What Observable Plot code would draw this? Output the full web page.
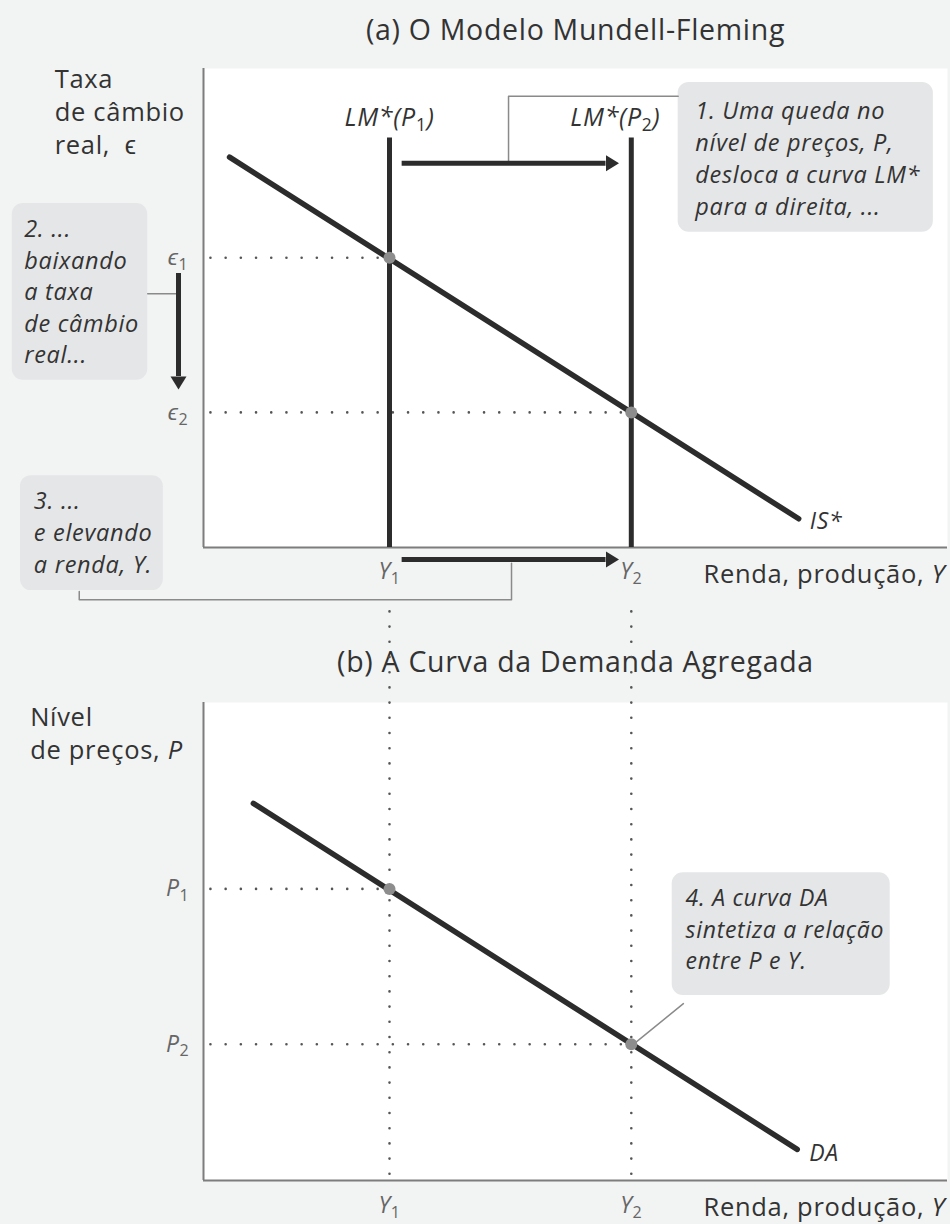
<!DOCTYPE html>
<html lang="pt">
<head>
<meta charset="utf-8">
<script src="https://cdn.jsdelivr.net/npm/d3@7"></script>
<script src="https://cdn.jsdelivr.net/npm/@observablehq/plot@0.6"></script>
<style>
  body { margin: 0; background: #f2f3f3; }
  #chart { width: 950px; }
  #chart svg { display: block; }
  #chart text { letter-spacing: 0.7px; }
</style>
</head>
<body>
<div id="chart"></div>
<script>
// ---- Data -------------------------------------------------------------
// Equilibrium income levels (shared by both panels)
const incomeLevels = [2.5, 5.75];
const incomeLabels = ["Y_1", "Y_2"];
// Real exchange rate at each equilibrium
const exchangeRates = [6.05, 2.82];
const exchangeLabels = ["ϵ_1", "ϵ_2"];
// Price level behind each LM* curve
const priceLevels = [6.1, 2.85];
const priceLabels = ["P_1", "P_2"];
const lmLabels = ["LM*(P_1)", "LM*(P_2)"];
const lmTop = 8.55;
// IS* curve (income, real exchange rate)
const isIncome = [0.35, 8.0];
const isRate = [8.15, 0.6];
// DA curve (income, price level)
const daIncome = [0.67, 7.98];
const daPrice = [7.89, 0.65];

// Annotation texts
const note1 = ["1. Uma queda no", "nível de preços, P,", "desloca a curva LM*", "para a direita, ..."];
const note2 = ["2. ...", "baixando", "a taxa", "de câmbio", "real..."];
const note3 = ["3. ...", "e elevando", "a renda, Y."];
const note4 = ["4. A curva DA", "sintetiza a relação", "entre P e Y."];
const titleA = "(a) O Modelo Mundell-Fleming";
const titleB = "(b) A Curva da Demanda Agregada";
const axisTitleA = ["Taxa", "de câmbio", "real,  ϵ"];
const axisTitleB = ["Nível", "de preços, {P}"];
const incomeAxisTitle = "Renda, produção, {Y}";

// ---- Tables built from the arrays -------------------------------------
const equilibria = incomeLevels.map((income, i) => ({
  income,
  rate: exchangeRates[i],
  price: priceLevels[i],
  incomeLabel: incomeLabels[i],
  rateLabel: exchangeLabels[i],
  priceLabel: priceLabels[i],
  lmLabel: lmLabels[i]
}));
const isCurve = isIncome.map((income, i) => ({income, rate: isRate[i]}));
const daCurve = daIncome.map((income, i) => ({income, price: daPrice[i]}));

// ---- Styling ----------------------------------------------------------
const FONT = "'Open Sans', sans-serif";
const INK = "#2c2c2c";
const TEXT = "#333";
const AXIS = "#7d7d7d";
const TICK = "#666";
const DOT = "#8d8d8d";
const BOX = "#e5e6e7";
const LEADER = "#8a8a8a";
const TITLE_SIZE = 28.5;
const LABEL_SIZE = 25.5;
const NOTE_SIZE = 23.5;
const TICK_SIZE = 23;

// Filled arrowheads drawn from the end of a shaft
const headRight = {draw(ctx) { ctx.moveTo(0, -8); ctx.lineTo(13, 0); ctx.lineTo(0, 8); ctx.closePath(); }};
const headDown = {draw(ctx) { ctx.moveTo(-8, 0); ctx.lineTo(0, 13); ctx.lineTo(8, 0); ctx.closePath(); }};

const dotted = {stroke: "#555", strokeWidth: 2.6, strokeDasharray: "0 15.2", strokeLinecap: "round"};
const note = {textAnchor: "start", lineHeight: 1.36, fontSize: NOTE_SIZE, fontStyle: "italic", fill: TEXT};

// Turn "_1" into subscripts and "{..}" into italics inside rendered text
function richText(svg) {
  const NS = "http://www.w3.org/2000/svg";
  svg.querySelectorAll("text").forEach(text => {
    const spans = text.querySelectorAll("tspan");
    const nodes = spans.length ? [...spans] : [text];
    nodes.forEach(node => {
      const s = node.textContent;
      if (!/_\d|\{/.test(s)) return;
      node.textContent = "";
      const re = /_(\d)|\{([^}]*)\}/g;
      let last = 0, m, shifted = false;
      const add = (str, attrs) => {
        const t = document.createElementNS(NS, "tspan");
        for (const k in attrs) t.setAttribute(k, attrs[k]);
        t.textContent = str;
        node.appendChild(t);
      };
      const plain = (str, extra = {}) => {
        const attrs = {...extra};
        if (shifted) { attrs.dy = "-0.21em"; shifted = false; }
        add(str, attrs);
      };
      while ((m = re.exec(s))) {
        if (m.index > last) plain(s.slice(last, m.index));
        if (m[1] !== undefined) {
          add(m[1], {"font-size": "0.7em", dy: "0.3em", "font-style": "normal"});
          shifted = true;
        } else {
          plain(m[2], {"font-style": "italic"});
        }
        last = re.lastIndex;
      }
      if (last < s.length) plain(s.slice(last));
    });
  });
  return svg;
}

const common = {
  width: 950,
  height: 612,
  marginLeft: 203,
  marginRight: 3,
  x: {domain: [0, 10], axis: null},
  style: {background: "transparent", overflow: "visible", fontFamily: FONT, color: INK}
};

// ---- Panel (a): Mundell-Fleming -----------------------------------------
const panelA = Plot.plot({
  ...common,
  marginTop: 68,
  marginBottom: 65,
  y: {domain: [0, 10], axis: null, label: "Taxa de câmbio real"},
  marks: [
    Plot.frame({fill: "white", stroke: "none"}),
    Plot.text([titleA], {frameAnchor: "top", lineAnchor: "middle", dy: -38, fontSize: TITLE_SIZE, fill: TEXT}),
    // annotation boxes
    Plot.rect([0], {x1: () => 6.38, x2: () => 9.81, y1: () => 6.58, y2: () => 9.71, fill: BOX, rx: 11}),
    Plot.rect([0], {x1: () => -2.57, x2: () => -0.75, y1: () => 3.49, y2: () => 7.18, fill: BOX, rx: 11}),
    Plot.rect([0], {x1: () => -2.46, x2: () => -0.54, y1: () => -0.9, y2: () => 1.5, fill: BOX, rx: 11}),
    // axes
    Plot.ruleX([0], {stroke: AXIS, strokeWidth: 2}),
    Plot.ruleY([0], {stroke: AXIS, strokeWidth: 2}),
    // guides from the equilibria to the exchange-rate axis
    Plot.ruleY(equilibria, {y: "rate", x1: () => 0.1, x2: "income", ...dotted}),
    // bracket leaders
    Plot.line([[4.1, 8.02], [4.1, 9.42], [6.38, 9.42]], {stroke: LEADER, strokeWidth: 1.5}),
    Plot.line([[-0.75, 5.3], [-0.336, 5.3]], {stroke: LEADER, strokeWidth: 1.5}),
    Plot.line([[-1.67, -0.92], [-1.67, -1.09], [4.14, -1.09], [4.14, -0.33]], {stroke: LEADER, strokeWidth: 1.5}),
    // LM* curves
    Plot.ruleX(equilibria, {x: "income", y1: () => 0, y2: () => lmTop, stroke: INK, strokeWidth: 5}),
    // IS* curve
    Plot.line(isCurve, {x: "income", y: "rate", stroke: INK, strokeWidth: 5.5}),
    Plot.dot(equilibria, {x: "income", y: "rate", r: 6, fill: DOT}),
    // shift arrows
    Plot.ruleY([0], {y: () => 8.02, x1: () => 2.67, x2: () => 5.41, stroke: INK, strokeWidth: 5}),
    Plot.dot([0], {x: () => 5.41, y: () => 8.02, symbol: headRight, fill: INK}),
    Plot.ruleY([0], {y: () => -0.25, x1: () => 2.67, x2: () => 5.41, stroke: INK, strokeWidth: 5}),
    Plot.dot([0], {x: () => 5.41, y: () => -0.25, symbol: headRight, fill: INK}),
    Plot.ruleX([0], {x: () => -0.336, y1: () => 5.72, y2: () => 3.57, stroke: INK, strokeWidth: 5}),
    Plot.dot([0], {x: () => -0.336, y: () => 3.57, symbol: headDown, fill: INK}),
    // curve labels
    Plot.text([equilibria[0]], {x: "income", y: () => lmTop, text: "lmLabel", dy: -20, fontSize: 25, fontStyle: "italic", fill: TEXT}),
    Plot.text([equilibria[1]], {x: "income", y: () => lmTop, text: "lmLabel", dy: -20, dx: -16, fontSize: 25, fontStyle: "italic", fill: TEXT}),
    Plot.text(["IS*"], {x: () => isIncome[1], y: () => isRate[1], dx: 11, dy: 3, textAnchor: "start", fontSize: TICK_SIZE, fontStyle: "italic", fill: TEXT}),
    // tick labels
    Plot.text(equilibria, {x: () => 0, y: "rate", text: "rateLabel", dx: -15, textAnchor: "end", fontSize: TICK_SIZE, fontStyle: "italic", fill: TICK}),
    Plot.text(equilibria, {x: "income", y: () => 0, text: "incomeLabel", dy: 24, fontSize: TICK_SIZE, fontStyle: "italic", fill: TICK}),
    // axis titles
    Plot.text([axisTitleA.join("\n")], {x: () => -2.0, y: () => 9.12, textAnchor: "start", lineHeight: 1.28, fontSize: LABEL_SIZE, fill: TEXT}),
    Plot.text([incomeAxisTitle], {x: () => 9.97, y: () => 0, dy: 27, textAnchor: "end", fontSize: LABEL_SIZE, fill: TEXT}),
    // notes
    Plot.text([note1.join("\n")], {x: () => 6.61, y: () => 8.15, ...note}),
    Plot.text([note2.join("\n")], {x: () => -2.41, y: () => 5.37, ...note, lineHeight: 1.34}),
    Plot.text([note3.join("\n")], {x: () => -2.28, y: () => 0.345, ...note})
  ]
});

// ---- Panel (b): aggregate demand ----------------------------------------
const panelB = Plot.plot({
  ...common,
  marginTop: 90,
  marginBottom: 44,
  y: {domain: [0, 10], axis: null, label: "Nível de preços"},
  marks: [
    Plot.frame({fill: "white", stroke: "none"}),
    Plot.text([titleB], {frameAnchor: "top", lineAnchor: "middle", dy: -40, fontSize: TITLE_SIZE, fill: TEXT}),
    Plot.rect([0], {x1: () => 6.3, x2: () => 9.23, y1: () => 3.87, y2: () => 6.44, fill: BOX, rx: 11}),
    Plot.ruleX([0], {stroke: AXIS, strokeWidth: 2}),
    Plot.ruleY([0], {stroke: AXIS, strokeWidth: 2}),
    // income guides running up into panel (a)
    Plot.ruleX(equilibria, {x: "income", y1: () => 0.13, y2: () => 12.2, ...dotted}),
    Plot.ruleY(equilibria, {y: "price", x1: () => 0.1, x2: "income", ...dotted}),
    Plot.line([[6.45, 3.7], [5.81, 2.89]], {stroke: LEADER, strokeWidth: 1.5}),
    // DA curve
    Plot.line(daCurve, {x: "income", y: "price", stroke: INK, strokeWidth: 5.5}),
    Plot.dot(equilibria, {x: "income", y: "price", r: 6, fill: DOT}),
    Plot.text(["DA"], {x: () => daIncome[1], y: () => daPrice[1], dx: 12, dy: 4, textAnchor: "start", fontSize: TICK_SIZE, fontStyle: "italic", fill: TEXT}),
    Plot.text(equilibria, {x: () => 0, y: "price", text: "priceLabel", dx: -14, textAnchor: "end", fontSize: TICK_SIZE, fontStyle: "italic", fill: TICK}),
    Plot.text(equilibria, {x: "income", y: () => 0, text: "incomeLabel", dy: 25, fontSize: TICK_SIZE, fontStyle: "italic", fill: TICK}),
    Plot.text([axisTitleB.join("\n")], {x: () => -2.33, y: () => 9.39, textAnchor: "start", lineHeight: 1.3, fontSize: LABEL_SIZE, fill: TEXT}),
    Plot.text([incomeAxisTitle], {x: () => 9.97, y: () => 0, dy: 27, textAnchor: "end", fontSize: LABEL_SIZE, fill: TEXT}),
    Plot.text([note4.join("\n")], {x: () => 6.48, y: () => 5.29, ...note, fontSize: 23})
  ]
});

const chart = document.getElementById("chart");
chart.append(richText(panelA), richText(panelB));
</script>
</body>
</html>
